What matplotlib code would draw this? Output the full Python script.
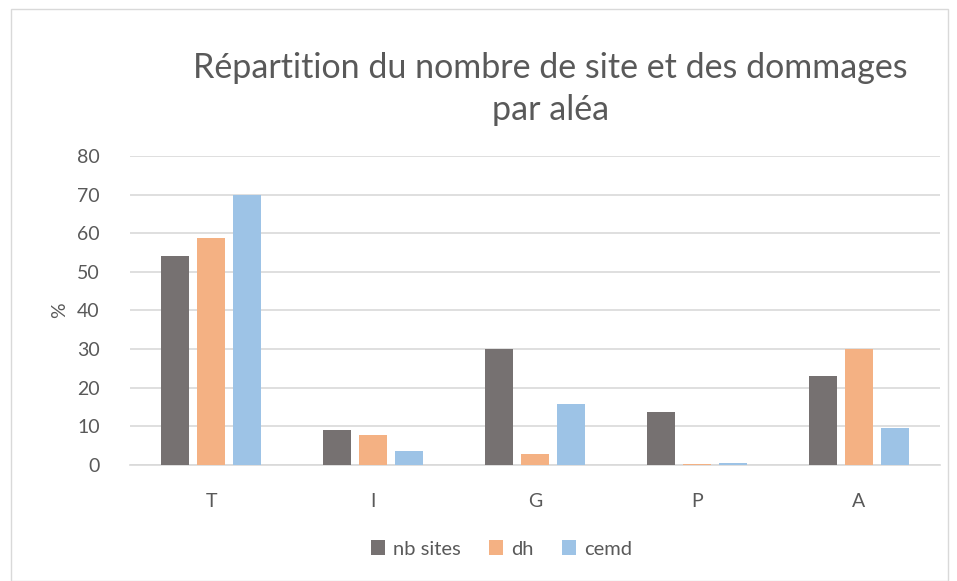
import numpy as np
import matplotlib.pyplot as plt
from matplotlib.patches import Rectangle

categories = ['T', 'I', 'G', 'P', 'A']
nb_sites = [54.0, 9.0, 30.0, 13.7, 22.9]
dh = [58.8, 7.7, 2.9, 0.1, 30.0]
cemd = [70.0, 3.5, 15.8, 0.4, 9.6]

series = [('nb sites', nb_sites, '#767171'),
          ('dh', dh, '#F4B183'),
          ('cemd', cemd, '#9DC3E6')]

plt.rcParams['font.family'] = ['Lato', 'DejaVu Sans']
txt = '#595959'

fig = plt.figure(figsize=(9.57, 5.81), dpi=100)
ax = fig.add_axes([0.136, 0.2, 0.846, 0.5315])

x = np.arange(len(categories))
w = 0.175
for i, (name, vals, col) in enumerate(series):
    ax.bar(x + (i - 1) * 0.222, vals, width=w, color=col, label=name, zorder=3)

ax.set_ylim(0, 80)
ax.set_xlim(-0.5, len(categories) - 0.5)
ax.set_yticks(range(0, 81, 10))
ax.set_xticks(x)
ax.set_xticklabels(categories)
ax.grid(axis='y', color='#D9D9D9', linewidth=1.2, zorder=0)
for s in ['top', 'right', 'left']:
    ax.spines[s].set_visible(False)
ax.spines['bottom'].set_color('#D9D9D9')
ax.spines['bottom'].set_linewidth(1.2)
ax.tick_params(axis='both', length=0, labelsize=14, colors=txt)
ax.tick_params(axis='y', pad=22)
ax.tick_params(axis='x', pad=20)
ax.set_ylabel('%', fontsize=14, color=txt, labelpad=6)

fig.text(0.575, 0.847, 'Répartition du nombre de site et des dommages\npar aléa',
         ha='center', va='center', fontsize=24.5, color=txt, linespacing=1.38)

fig.legend(loc='center', bbox_to_anchor=(0.524, 0.055), ncol=3, frameon=False,
           fontsize=14.5, labelcolor=txt, handlelength=0.7, handleheight=0.7,
           columnspacing=1.4, handletextpad=0.4)

fig.patches.append(Rectangle((0.011, 0.0), 0.98, 0.985, transform=fig.transFigure,
                             fill=False, edgecolor='#D9D9D9', linewidth=1))

fig.savefig('out.png', dpi=100)
